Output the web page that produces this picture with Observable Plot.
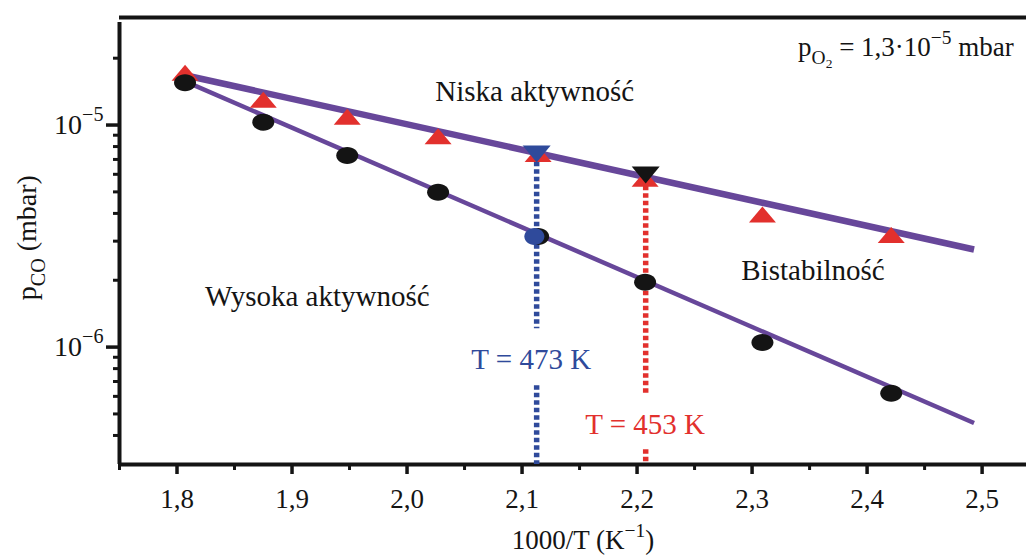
<!DOCTYPE html>
<html>
<head>
<meta charset="utf-8">
<script src="https://cdn.jsdelivr.net/npm/d3@7"></script>
<script src="https://cdn.jsdelivr.net/npm/@observablehq/plot@0.6"></script>
<style>
  html, body { margin: 0; padding: 0; background: #fff; overflow: hidden; }
</style>
</head>
<body>
<div id="chart"></div>
<script>
// ---- measured points: 1000/T (K^-1) and CO partial pressure (mbar) ----
const invT = [1.807, 1.875, 1.948, 2.027, 2.114, 2.207, 2.309, 2.421];
// upper branch (transition to low activity) – red triangles
const pUpper = [1.72e-5, 1.30e-5, 1.09e-5, 8.9e-6, 7.4e-6, 5.73e-6, 3.96e-6, 3.2e-6];
// lower branch (transition to high activity) – black circles
const pLower = [1.55e-5, 1.03e-5, 7.3e-6, 4.98e-6, 3.15e-6, 1.96e-6, 1.05e-6, 6.2e-7];

// ---- fitted straight lines (end points) ----
const fitX = [1.806, 2.493];
const fitUpper = [1.68e-5, 2.75e-6];
const fitLower = [1.58e-5, 4.55e-7];

// ---- highlighted isotherms ----
const markLabel = ["T = 473 K", "T = 453 K"];
const markColor = ["#2f4a9b", "#e2302d"];
const markX = [2.1127, 2.2075];
const markTri = [7.4e-6, 5.95e-6];      // down-triangles on the upper branch
const markTriColor = ["#2f4a9b", "#141414"];
const markCircle = [3.15e-6];            // blue circle at 473 K on the lower branch
const markLabelX = [2.108, 2.207];
const markLabelY = [8.8e-7, 4.49e-7];
// dotted guide segments (gaps leave room for the labels)
const guideX = [2.1127, 2.1127, 2.2075, 2.2075];
const guideFrom = [6.8e-6, 6.7e-7, 5.3e-6, 3.45e-7];
const guideTo = [1.21e-6, 2.96e-7, 6.05e-7, 2.96e-7];
const guideColor = ["#2f4a9b", "#2f4a9b", "#e2302d", "#e2302d"];

// ---- region labels ----
const regionText = ["Niska aktywność", "Wysoka aktywność", "Bistabilność"];
const regionX = [2.111, 1.922, 2.353];
const regionY = [1.41e-5, 1.69e-6, 2.21e-6];

// ---- axes ----
const xDomain = [1.75, 2.5386];
const yDomain = [2.96e-7, 3.05e-5];
const xMajor = [1.8, 1.9, 2.0, 2.1, 2.2, 2.3, 2.4, 2.5];
const xMinor = [1.75, 1.85, 1.95, 2.05, 2.15, 2.25, 2.35, 2.45];
const yMajor = [1e-5, 1e-6];
const yMajorLabel = ["10^{−5}", "10^{−6}"];
const yMinor = [4e-7, 5e-7, 6e-7, 7e-7, 8e-7, 9e-7, 2e-6, 3e-6, 4e-6, 5e-6, 6e-6, 7e-6, 8e-6, 9e-6, 2e-5];
const xTitle = "1000/T (K^{−1})";
const xTitlePos = 2.153;
const yTitle = "p_{CO} (mbar)";
const yTitlePos = 3.11e-6;
const condition = "p_{O_{2}} = 1,3·10^{−5} mbar";
const conditionX = 2.340;
const conditionY = 2.23e-5;

// ---- marker shapes (slightly flattened) ----
const K = 0.5523;
const ellipse = (rx, ry) => ({
  draw(ctx) {
    const kx = rx * K, ky = ry * K;
    ctx.moveTo(rx, 0);
    ctx.bezierCurveTo(rx, ky, kx, ry, 0, ry);
    ctx.bezierCurveTo(-kx, ry, -rx, ky, -rx, 0);
    ctx.bezierCurveTo(-rx, -ky, -kx, -ry, 0, -ry);
    ctx.bezierCurveTo(kx, -ry, rx, -ky, rx, 0);
    ctx.closePath();
  }
});
const triUp = (w, h) => ({
  draw(ctx) {
    ctx.moveTo(0, -h / 2); ctx.lineTo(w / 2, h / 2); ctx.lineTo(-w / 2, h / 2); ctx.closePath();
  }
});
const triDown = (w, h) => ({
  draw(ctx) {
    ctx.moveTo(0, h / 2); ctx.lineTo(w / 2, -h / 2); ctx.lineTo(-w / 2, -h / 2); ctx.closePath();
  }
});

const points = invT.map((x, i) => ({x, upper: pUpper[i], lower: pLower[i]}));
const fit = fitX.map((x, i) => ({x, upper: fitUpper[i], lower: fitLower[i]}));
const guides = guideX.map((x, i) => ({x, y1: guideFrom[i], y2: guideTo[i], c: guideColor[i]}));
const marks = markX.map((x, i) => ({x, tri: markTri[i], triColor: markTriColor[i], label: markLabel[i], color: markColor[i], lx: markLabelX[i], ly: markLabelY[i]}));
const regions = regionText.map((t, i) => ({t, x: regionX[i], y: regionY[i]}));

const ink = "#141414";
const purple = "#67479a";
const font = "Liberation Serif, Times New Roman, serif";

const chart = Plot.plot({
  width: 1026,
  height: 556,
  marginLeft: 119,
  marginRight: 0,
  marginTop: 17,
  marginBottom: 92,
  style: {fontFamily: font, fontSize: "27px", color: ink, background: "#fff"},
  x: {domain: xDomain},
  y: {type: "log", domain: yDomain},
  marks: [
    // axis frame
    Plot.ruleY([yDomain[1]], {stroke: ink, strokeWidth: 4}),
    Plot.ruleY([yDomain[0]], {stroke: ink, strokeWidth: 4}),
    Plot.ruleX([xDomain[0]], {stroke: ink, strokeWidth: 4, y1: yDomain[0], y2: yDomain[1], insetBottom: -5}),
    Plot.axisX(xMajor, {tickSize: 10, tickPadding: 14, stroke: ink, strokeWidth: 3.5, fontSize: 27,
      tickFormat: d => d.toFixed(1).replace(".", ","), label: null}),
    Plot.axisX(xMinor, {tickSize: 6, stroke: ink, strokeWidth: 3, tickFormat: () => "", label: null}),
    Plot.axisY(yMajor, {tickSize: 13, stroke: ink, strokeWidth: 3.5, tickFormat: () => "", label: null}),
    Plot.axisY(yMinor, {tickSize: 6, stroke: ink, strokeWidth: 3, tickFormat: () => "", label: null}),
    Plot.text(yMajor, {y: d => d, text: (d, i) => yMajorLabel[i], frameAnchor: "left", dx: -16,
      textAnchor: "end", lineAnchor: "middle", fill: ink, fontSize: 28}),
    Plot.text([xTitle], {x: xTitlePos, text: d => d, frameAnchor: "bottom", dy: 76,
      textAnchor: "middle", lineAnchor: "middle", fill: ink, fontSize: 27}),
    Plot.text([yTitle], {y: yTitlePos, text: d => d, frameAnchor: "left", dx: -92, rotate: -90,
      textAnchor: "middle", lineAnchor: "middle", fill: ink, fontSize: 28}),

    // fitted lines
    Plot.line(fit, {x: "x", y: "upper", stroke: purple, strokeWidth: 6.5, strokeLinecap: "butt"}),
    Plot.line(fit, {x: "x", y: "lower", stroke: purple, strokeWidth: 4.5, strokeLinecap: "butt"}),

    // dotted isotherm guides
    Plot.ruleX(guides, {x: "x", y1: "y1", y2: "y2", stroke: "c", strokeWidth: 5.5, strokeDasharray: "4.5,3"}),

    // data points
    Plot.dot(points, {x: "x", y: "upper", symbol: triUp(27, 16), r: 8, fill: "#e2302d", stroke: "none"}),
    Plot.dot(points, {x: "x", y: "lower", symbol: ellipse(11, 8.5), r: 8, fill: ink, stroke: "none"}),

    // highlighted points
    Plot.dot(marks, {x: "x", y: "tri", symbol: triDown(28, 17), r: 8, fill: "triColor", stroke: "none"}),
    Plot.dot(markCircle, {x: markX[0] - 0.002, y: d => d, symbol: ellipse(10, 8.5), r: 8, fill: markColor[0], stroke: "none"}),

    // labels
    Plot.text(marks, {x: "lx", y: "ly", text: "label", fill: "color", fontSize: 29}),
    Plot.text(regions, {x: "x", y: "y", text: "t", fill: ink, fontSize: 29}),
    Plot.text([condition], {x: conditionX, y: conditionY, text: d => d, textAnchor: "start", fill: ink, fontSize: 27})
  ]
});

document.getElementById("chart").appendChild(chart);

// Turn "_{..}" and "^{..}" markup in text into sub/superscript tspans.
const LEVEL = {
  base: {scale: 1, shift: 0},
  sup: {scale: 0.72, shift: -0.45},
  sub: {scale: 0.72, shift: 0.3},
  subsub: {scale: 0.5, shift: 0.45}
};
function parse(s, level = "base", out = []) {
  let i = 0, buf = "";
  while (i < s.length) {
    const c = s[i];
    if ((c === "_" || c === "^") && s[i + 1] === "{") {
      if (buf) { out.push({text: buf, level}); buf = ""; }
      let depth = 0, j = i + 1;
      for (; j < s.length; j++) {
        if (s[j] === "{") depth++;
        else if (s[j] === "}") { depth--; if (!depth) break; }
      }
      const next = c === "^" ? "sup" : (level === "sub" ? "subsub" : "sub");
      parse(s.slice(i + 2, j), next, out);
      i = j + 1;
    } else { buf += c; i++; }
  }
  if (buf) out.push({text: buf, level});
  return out;
}
chart.querySelectorAll("text").forEach(el => {
  const s = el.textContent;
  if (!/[_^]\{/.test(s)) return;
  const fs = parseFloat(getComputedStyle(el).fontSize);
  el.textContent = "";
  let cur = 0;
  for (const seg of parse(s)) {
    const st = LEVEL[seg.level];
    const t = document.createElementNS("http://www.w3.org/2000/svg", "tspan");
    t.setAttribute("font-size", (fs * st.scale).toFixed(2));
    const shift = fs * st.shift;
    if (shift !== cur) t.setAttribute("dy", (shift - cur).toFixed(2));
    cur = shift;
    t.textContent = seg.text;
    el.appendChild(t);
  }
});
</script>
</body>
</html>
